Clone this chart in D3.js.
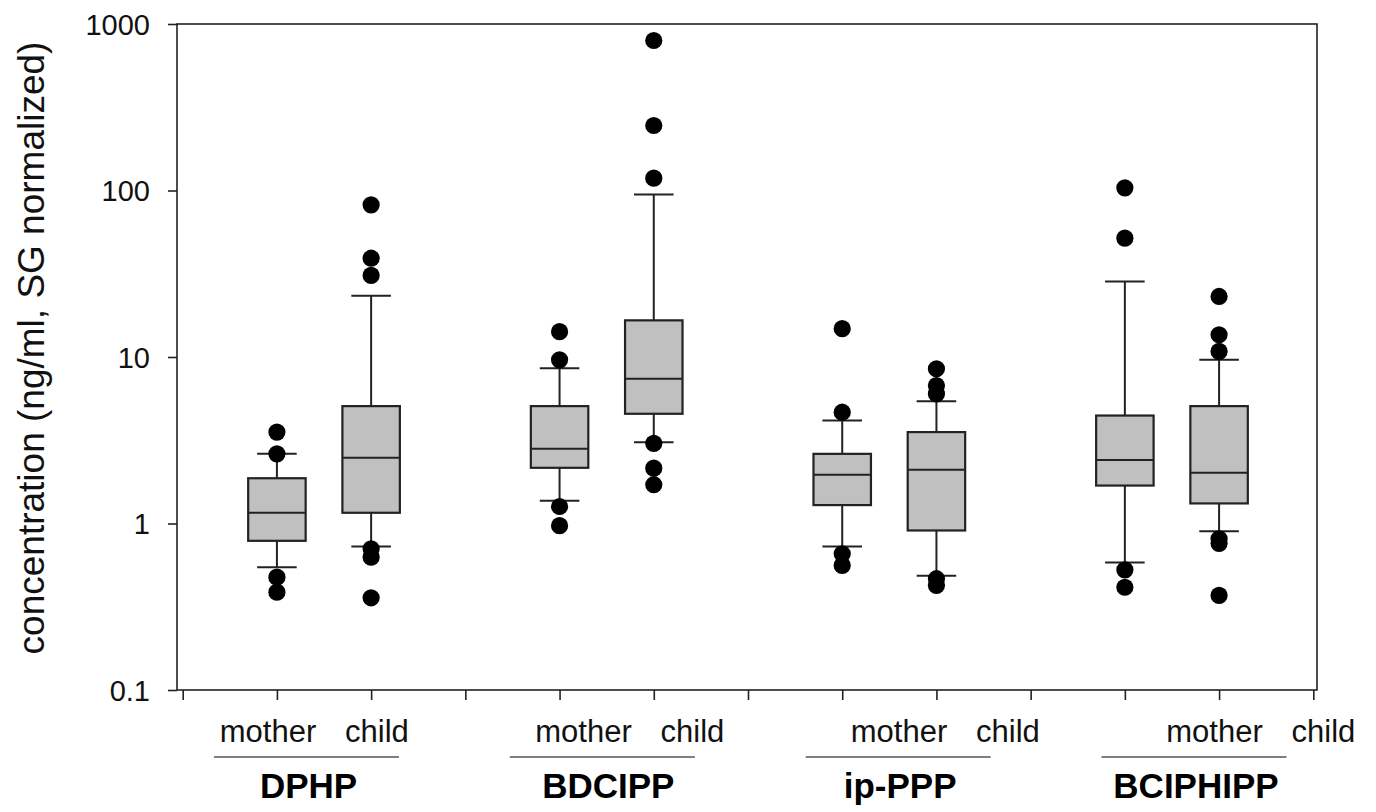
<!DOCTYPE html>
<html>
<head>
<meta charset="utf-8">
<script src="https://cdn.jsdelivr.net/npm/d3@7"></script>
<style>
  html, body { margin: 0; padding: 0; background: #fff; }
  svg { display: block; font-family: 'Liberation Sans', Arial, sans-serif; }
</style>
</head>
<body>
<svg id="chart" width="1376" height="812"></svg>
<script>
// box plot, log scale, mother vs child per compound

const groups = ['DPHP', 'BDCIPP', 'ip-PPP', 'BCIPHIPP'];
const subgroups = ['mother', 'child'];
const yTicks = [0.1, 1, 10, 100, 1000];

// order: DPHP m, DPHP c, BDCIPP m, BDCIPP c, ip-PPP m, ip-PPP c, BCIPHIPP m, BCIPHIPP c
const q1 = [0.787, 1.16, 2.16, 4.56, 1.29, 0.908, 1.69, 1.32];
const median = [1.16, 2.48, 2.81, 7.4, 1.96, 2.1, 2.41, 2.02];
const q3 = [1.87, 5.07, 5.07, 16.6, 2.62, 3.54, 4.45, 5.07];
const whiskerLow = [0.547, 0.727, 1.37, 3.08, 0.727, 0.485, 0.583, 0.899];
const whiskerHigh = [2.62, 23.3, 8.57, 94.6, 4.15, 5.43, 28.4, 9.62];
const outliers = [
    [3.54, 2.62, 0.476, 0.387],
    [82, 39.2, 30.9, 0.705, 0.628, 0.358],
    [14.2, 9.62, 1.265, 0.97],
    [796, 245.7, 118.6, 3.03, 2.15, 1.71],
    [14.8, 4.66, 0.658, 0.56],
    [8.5, 6.74, 6.0, 0.466, 0.425],
    [103.8, 51.7, 0.527, 0.414],
    [23.1, 13.6, 10.8, 0.81, 0.76, 0.37],
];

const svg = d3.select('#chart');

const frame = { left: 177, right: 1317, top: 24, bottom: 690 };

const x = d3.scaleLinear().domain([0, 12]).range([182.7, 1313.3]);
const y = d3.scaleLog().domain([0.1, 1000]).range([frame.bottom, frame.top]);

// label scales (labels in the source are not aligned with the boxes)
const subX = d3.scaleLinear().domain([0, 3]).range([322.5, 1269]);
const groupX = d3.scaleLinear().domain([0, 3]).range([306.5, 1194]);

const boxes = d3.range(q1.length).map(i => ({
    g: Math.floor(i / 2),
    s: i % 2,
    slot: Math.floor(i / 2) * 3 + (i % 2) + 1,
    q1: q1[i], med: median[i], q3: q3[i],
    lo: whiskerLow[i], hi: whiskerHigh[i],
    out: outliers[i],
}));

const boxW = 0.61;   // in slot units
const capW = 0.42;
const ink = '#222';

// frame
svg.append('rect')
    .attr('x', frame.left).attr('y', frame.top)
    .attr('width', frame.right - frame.left).attr('height', frame.bottom - frame.top)
    .attr('fill', 'none').attr('stroke', ink).attr('stroke-width', 1.6);

// axes
const yAxis = svg.append('g')
    .attr('transform', `translate(${frame.left},0)`)
    .call(d3.axisLeft(y).tickValues(yTicks).tickSize(9).tickPadding(18)
        .tickFormat(d => d < 1 ? String(d) : d3.format('d')(d)));
yAxis.select('.domain').remove();
yAxis.selectAll('line').attr('stroke', ink).attr('stroke-width', 1.6);
yAxis.selectAll('text')
    .attr('fill', '#111')
    .attr('font-size', 29)
    .attr('dy', '0.35em');

const xAxis = svg.append('g')
    .attr('transform', `translate(0,${frame.bottom})`)
    .call(d3.axisBottom(x).tickValues(d3.range(0, 13)).tickSize(10).tickFormat(''));
xAxis.select('.domain').remove();
xAxis.selectAll('line').attr('stroke', ink).attr('stroke-width', 1.6);

// y label
svg.append('text')
    .attr('transform', `translate(44,348) rotate(-90)`)
    .attr('text-anchor', 'middle')
    .attr('font-size', 37)
    .attr('fill', '#111')
    .text('concentration (ng/ml, SG normalized)');

// boxes
const bg = svg.append('g').selectAll('g').data(boxes).enter().append('g');

bg.append('line')
    .attr('x1', d => x(d.slot)).attr('x2', d => x(d.slot))
    .attr('y1', d => y(d.hi)).attr('y2', d => y(d.lo))
    .attr('stroke', ink).attr('stroke-width', 2);

bg.selectAll('.cap').data(d => [d.lo, d.hi].map(v => ({ slot: d.slot, v })))
    .enter().append('line')
    .attr('x1', d => x(d.slot - capW / 2)).attr('x2', d => x(d.slot + capW / 2))
    .attr('y1', d => y(d.v)).attr('y2', d => y(d.v))
    .attr('stroke', ink).attr('stroke-width', 2);

bg.append('rect')
    .attr('x', d => x(d.slot - boxW / 2))
    .attr('width', d => x(d.slot + boxW / 2) - x(d.slot - boxW / 2))
    .attr('y', d => y(d.q3))
    .attr('height', d => y(d.q1) - y(d.q3))
    .attr('fill', '#c0c0c0').attr('stroke', ink).attr('stroke-width', 2.2);

bg.append('line')
    .attr('x1', d => x(d.slot - boxW / 2)).attr('x2', d => x(d.slot + boxW / 2))
    .attr('y1', d => y(d.med)).attr('y2', d => y(d.med))
    .attr('stroke', ink).attr('stroke-width', 2);

bg.selectAll('circle').data(d => d.out.map(v => ({ slot: d.slot, v })))
    .enter().append('circle')
    .attr('cx', d => x(d.slot)).attr('cy', d => y(d.v))
    .attr('r', 8.6)
    .attr('fill', '#000');

// category labels
const lab = svg.append('g');
groups.forEach((name, gi) => {
    subgroups.forEach((s, si) => {
        lab.append('text')
            .attr('x', subX(gi) + (si === 0 ? -54.5 : 54.5))
            .attr('y', 742)
            .attr('text-anchor', 'middle')
            .attr('font-size', 31)
            .attr('fill', '#111')
            .text(s);
    });
    lab.append('line')
        .attr('x1', groupX(gi) - 92.5).attr('x2', groupX(gi) + 92.5)
        .attr('y1', 757).attr('y2', 757)
        .attr('stroke', '#555').attr('stroke-width', 1.6);
    lab.append('text')
        .attr('x', groupX(gi) + (gi === 1 ? 6 : 2))
        .attr('y', 798)
        .attr('text-anchor', 'middle')
        .attr('font-size', 35)
        .attr('font-weight', 'bold')
        .attr('fill', '#000')
        .text(name);
});
</script>
</body>
</html>
